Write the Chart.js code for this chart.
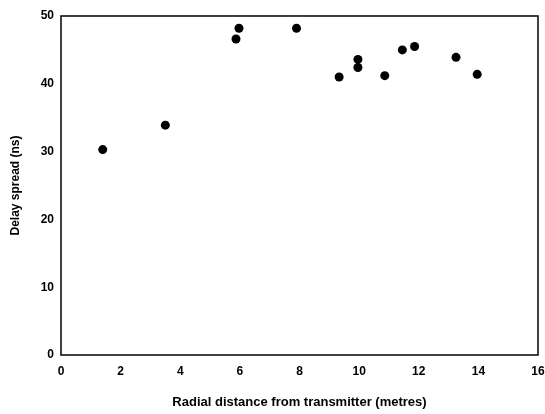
<!DOCTYPE html>
<html>
<head>
<meta charset="utf-8">
<script src="https://cdn.jsdelivr.net/npm/chart.js@4.4.1/dist/chart.umd.min.js"></script>
<style>
  html, body { margin: 0; padding: 0; background: #fff; }
  #c { display: block; }
</style>
</head>
<body>
<canvas id="c" width="545" height="414"></canvas>
<script>
// Data
const distance = [1.4, 3.5, 5.87, 5.97, 7.9, 9.33, 9.96, 9.96, 10.86, 11.45, 11.86, 13.25, 13.96];
const delaySpread = [30.3, 33.9, 46.6, 48.2, 48.2, 41.0, 43.6, 42.4, 41.2, 45.0, 45.5, 43.9, 41.4];
const xTicks = [0, 2, 4, 6, 8, 10, 12, 14, 16];
const yTicks = [0, 10, 20, 30, 40, 50];
const xTitle = 'Radial distance from transmitter (metres)';
const yTitle = 'Delay spread (ns)';

const points = distance.map((d, i) => ({ x: d, y: delaySpread[i] }));

const frame = {
  id: 'frame',
  beforeDatasetsDraw(chart) {
    const a = chart.chartArea;
    const ctx = chart.ctx;
    ctx.save();
    ctx.strokeStyle = '#111';
    ctx.lineWidth = 1.6;
    ctx.strokeRect(a.left, a.top, a.right - a.left, a.bottom - a.top);
    ctx.restore();
  }
};

const tickFont = { family: 'Liberation Sans, Arial, sans-serif', size: 12, weight: 'bold' };

new Chart(document.getElementById('c'), {
  type: 'scatter',
  data: {
    datasets: [{
      data: points,
      backgroundColor: '#000',
      borderColor: '#000',
      pointRadius: 4.5,
      pointHoverRadius: 4.5,
      borderWidth: 0
    }]
  },
  options: {
    responsive: false,
    animation: false,
    events: [],
    layout: { padding: { top: 16, right: 7, bottom: 0, left: 0 } },
    plugins: { legend: { display: false }, tooltip: { enabled: false } },
    scales: {
      x: {
        type: 'linear',
        min: xTicks[0],
        max: xTicks[xTicks.length - 1],
        afterBuildTicks: s => { s.ticks = xTicks.map(v => ({ value: v })); },
        afterFit: s => { s.height = 59; s.paddingLeft = 0; s.paddingRight = 0; },
        grid: { display: false, drawTicks: false },
        border: { display: false },
        ticks: { color: '#000', font: tickFont, padding: 9, maxRotation: 0, autoSkip: false },
        title: {
          display: true, text: xTitle, color: '#000',
          font: { family: 'Liberation Sans, Arial, sans-serif', size: 13, weight: 'bold' },
          padding: { top: 0, bottom: 4 }
        }
      },
      y: {
        type: 'linear',
        min: yTicks[0],
        max: yTicks[yTicks.length - 1],
        afterBuildTicks: s => { s.ticks = yTicks.map(v => ({ value: v })); },
        afterFit: s => { s.width = 61; s.paddingTop = 0; s.paddingBottom = 0; },
        grid: { display: false, drawTicks: false },
        border: { display: false },
        ticks: { color: '#000', font: tickFont, padding: 7, autoSkip: false },
        title: {
          display: true, text: yTitle, color: '#000',
          font: { family: 'Liberation Sans, Arial, sans-serif', size: 12, weight: 'bold' },
          padding: { top: 8, bottom: 0 }
        }
      }
    }
  },
  plugins: [frame]
});
</script>
</body>
</html>
